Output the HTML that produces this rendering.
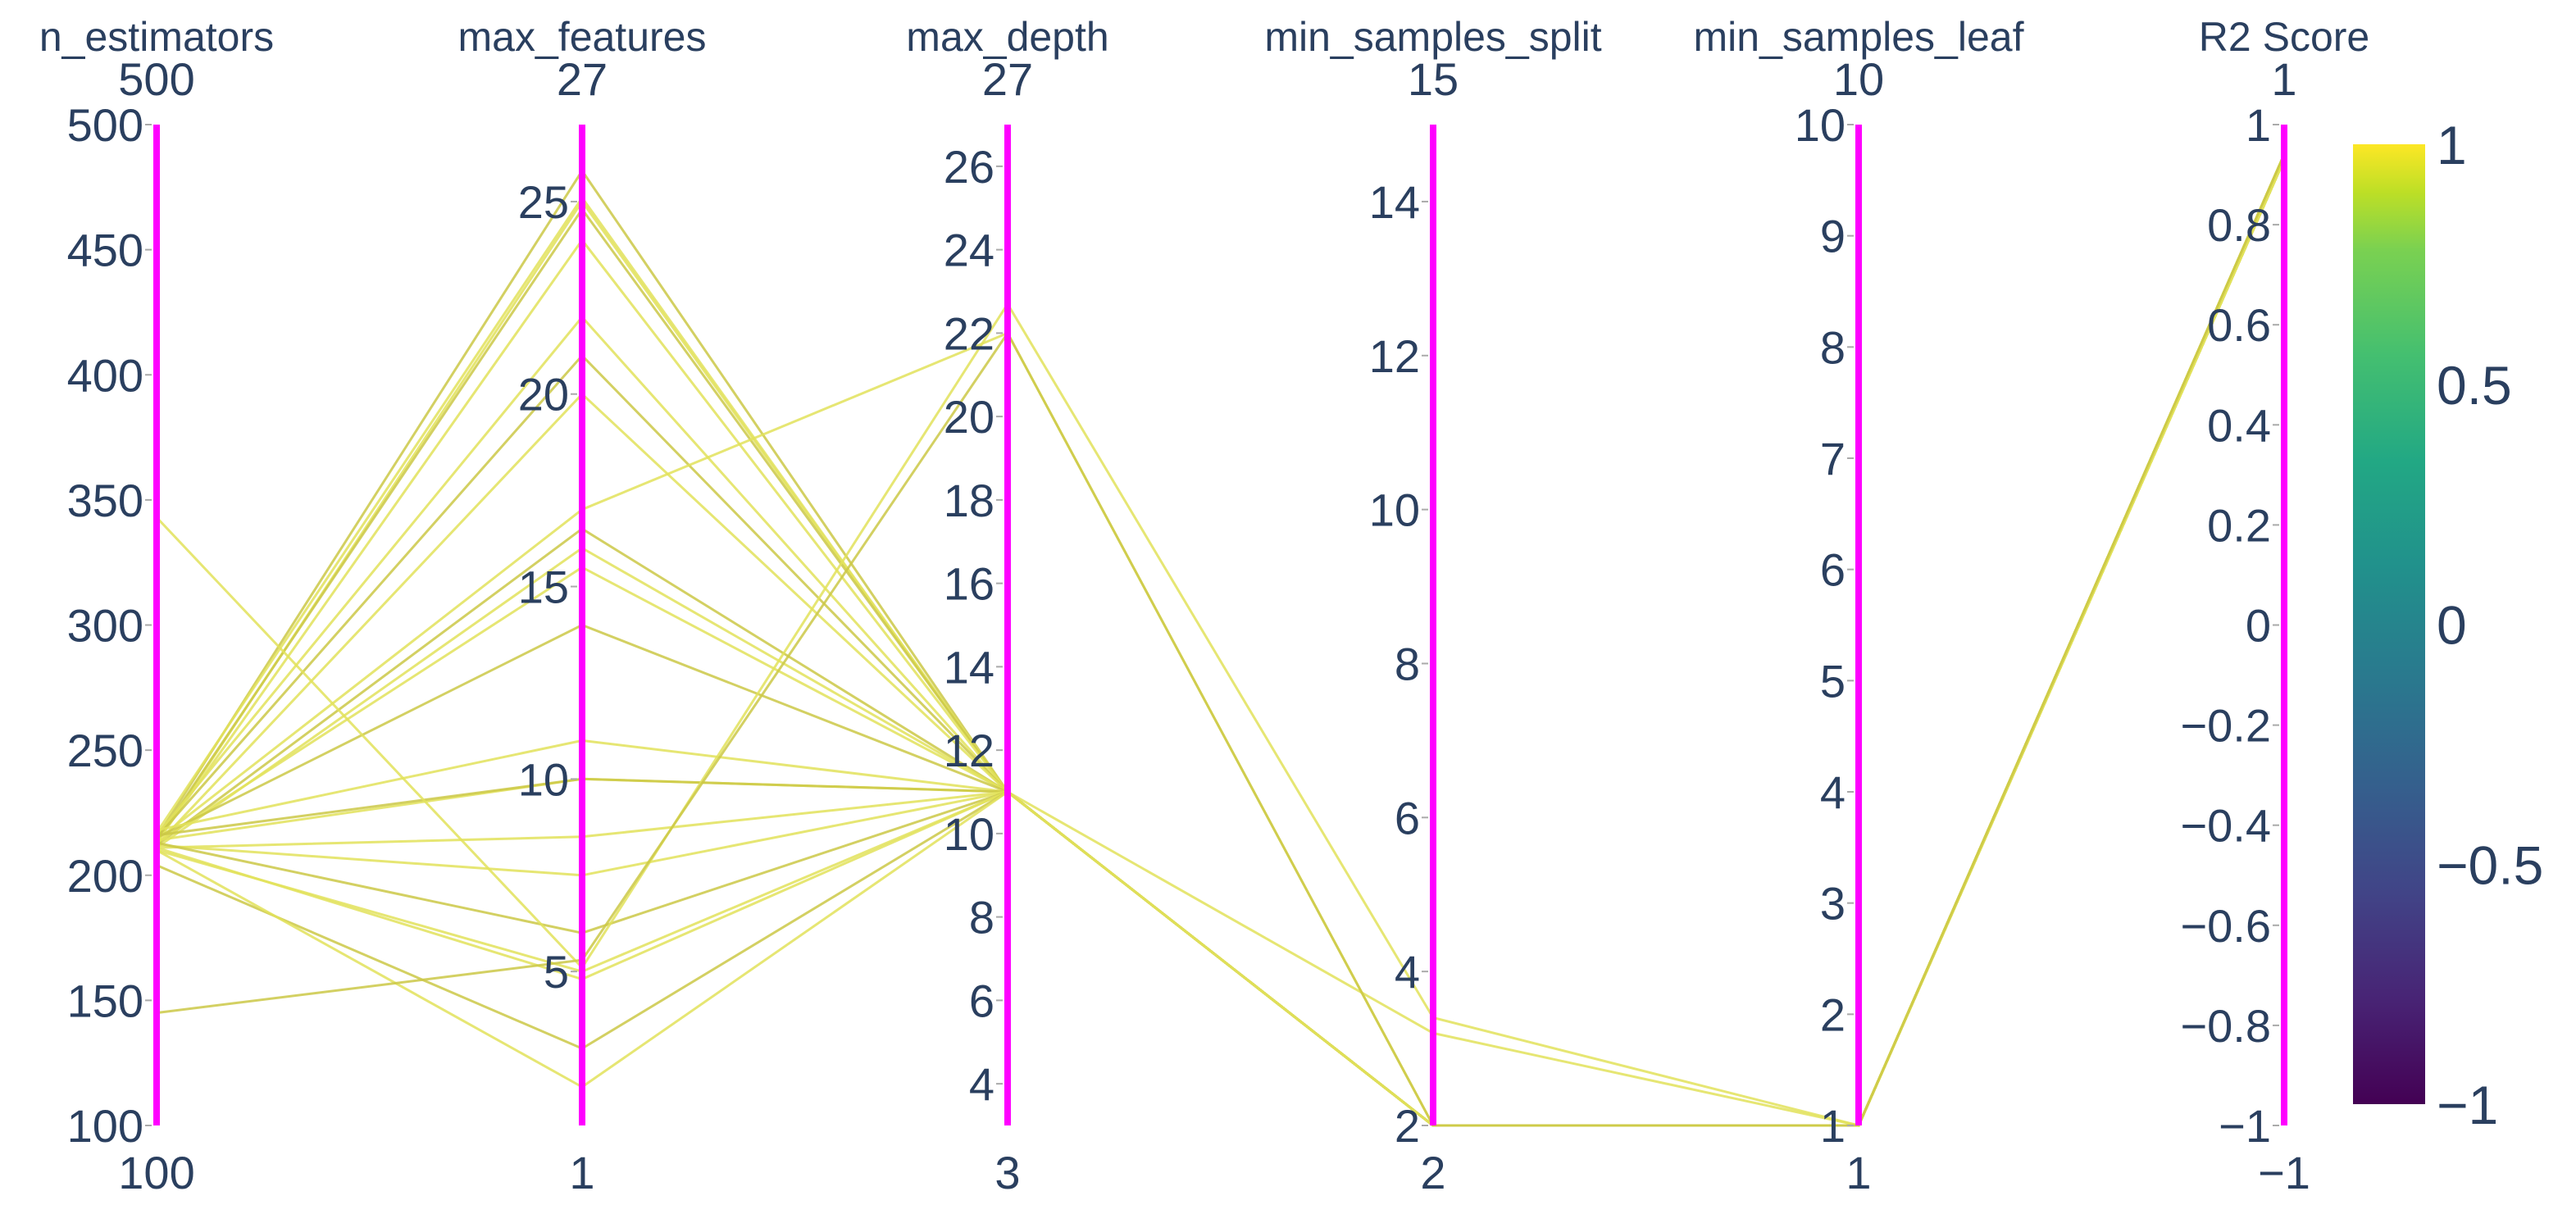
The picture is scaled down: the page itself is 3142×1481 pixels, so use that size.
<!DOCTYPE html>
<html><head><meta charset="utf-8"><style>
html,body{margin:0;padding:0;background:#fff;}
svg{display:block;font-family:"Liberation Sans",sans-serif;}
</style></head><body>
<svg id="chart" width="3142" height="1481" viewBox="0 0 3142 1481">
<defs>
<linearGradient id="viridis" x1="0" y1="1" x2="0" y2="0">
<stop offset="0" stop-color="#440154"/><stop offset="0.11" stop-color="#482475"/><stop offset="0.22" stop-color="#414487"/><stop offset="0.33" stop-color="#355f8d"/><stop offset="0.44" stop-color="#2a788e"/><stop offset="0.56" stop-color="#21918c"/><stop offset="0.67" stop-color="#22a884"/><stop offset="0.78" stop-color="#44bf70"/><stop offset="0.89" stop-color="#7ad151"/><stop offset="0.95" stop-color="#bddf26"/><stop offset="1" stop-color="#fde725"/>
</linearGradient>
</defs>
<g id="lines"></g>
<g id="axes"></g>
<g id="cbar"></g>
</svg>
<script>
const dimNames = ["n_estimators","max_features","max_depth","min_samples_split","min_samples_leaf","R2 Score"];
const dimMin = [100,1,3,2,1,-1];
const dimMax = [500,27,27,15,10,1];
const ticks0 = [100,150,200,250,300,350,400,450,500];
const ticks1 = [5,10,15,20,25];
const ticks2 = [4,6,8,10,12,14,16,18,20,22,24,26];
const ticks3 = [2,4,6,8,10,12,14];
const ticks4 = [1,2,3,4,5,6,7,8,9,10];
const ticks5 = [-1,-0.8,-0.6,-0.4,-0.2,0,0.2,0.4,0.6,0.8,1];
const cbTicks = [1,0.5,0,-0.5,-1];
const nEstimators = [215,213,217,214,213,216,215,212,214,212,211,213,215,218,214,216,211,212,213,210,211,204,210,343,145];
const maxFeatures = [25.8,25,25.1,24.8,24,22,21,20,17,16.5,16,15.5,14,11,10,10,8.5,7.5,6,5,4.8,3,2,5.1,5.3];
const maxDepth = [11,11,11,11,11,11,11,11,22,11,11,11,11,11,11,11,11,11,11,11,11,11,11,22.7,22];
const minSplit = [2,2,2,2,2,2,2,2,2,2,3.2,2,2,2,2,2,2,2,2,2,2,2,2,3.4,2];
const minLeaf = [1,1,1,1,1,1,1,1,1,1,1,1,1,1,1,1,1,1,1,1,1,1,1,1,1];
const r2 = [0.93,0.93,0.94,0.93,0.94,0.93,0.94,0.93,0.93,0.94,0.93,0.94,0.93,0.94,0.93,0.93,0.94,0.93,0.93,0.94,0.93,0.94,0.93,0.93,0.94];

const NS="http://www.w3.org/2000/svg";
const X0=191, DX=519, YT=152, YB=1373;
const allTicks=[ticks0,ticks1,ticks2,ticks3,ticks4,ticks5];
const cols=[nEstimators,maxFeatures,maxDepth,minSplit,minLeaf,r2];
function xPos(i){return X0+i*DX;}
function yPos(i,v){return YB-(v-dimMin[i])/(dimMax[i]-dimMin[i])*(YB-YT);}
function fmt(v){return v<0?"\u2212"+String(-v):String(v);}
function mk(tag,attrs,parent){const e=document.createElementNS(NS,tag);for(const k in attrs)e.setAttribute(k,attrs[k]);parent.appendChild(e);return e;}

const gL=document.getElementById('lines');
for(let r=0;r<nEstimators.length;r++){
  const pts=cols.map((c,i)=>xPos(i)+","+yPos(i,c[r]).toFixed(1)).join(" ");
  const dark = r%3===0;
  const p=mk('polyline',{points:pts,fill:'none',stroke:dark?'#cbc847':'#e2e25a','stroke-width':3,'stroke-opacity':0.85},gL);
  
  
}
const gA=document.getElementById('axes');
for(let i=0;i<6;i++){
  const x=xPos(i);
  const ax=mk('g',{},gA);
  
  
  const ln=mk('line',{x1:x,y1:YT,x2:x,y2:YB,stroke:'#ff00ff','stroke-width':8},ax);
  
  
  const t=mk('text',{x:x,y:62,'text-anchor':'middle','font-size':50,fill:'#2a3f5f'},ax);
  t.textContent=dimNames[i];
  
  
  const mx=mk('text',{x:x,y:116,'text-anchor':'middle','font-size':56,fill:'#2a3f5f'},ax);
  mx.textContent=fmt(dimMax[i]);
  
  
  const mn=mk('text',{x:x,y:1450,'text-anchor':'middle','font-size':56,fill:'#2a3f5f'},ax);
  mn.textContent=fmt(dimMin[i]);
  
  
  for(const v of allTicks[i]){
    const y=yPos(i,v);
    mk('line',{x1:x-14,y1:y,x2:x-6,y2:y,stroke:'#aaa','stroke-width':2},ax);
    const tl=mk('text',{x:x-16,y:y+20,'text-anchor':'end','font-size':56,fill:'#2a3f5f'},ax);
    tl.textContent=fmt(v);
    
    
  }
}
const gC=document.getElementById('cbar');
const CBT=176, CBB=1347;
const rc=mk('rect',{x:2870,y:CBT,width:88,height:CBB-CBT,fill:'url(#viridis)'},gC);


for(const v of cbTicks){
  const y=CBB-(v+1)/2*(CBB-CBT);
  const tl=mk('text',{x:2972,y:y+24,'font-size':66,fill:'#2a3f5f'},gC);
  tl.textContent=fmt(v);
  
  
}
</script>
</body></html>
